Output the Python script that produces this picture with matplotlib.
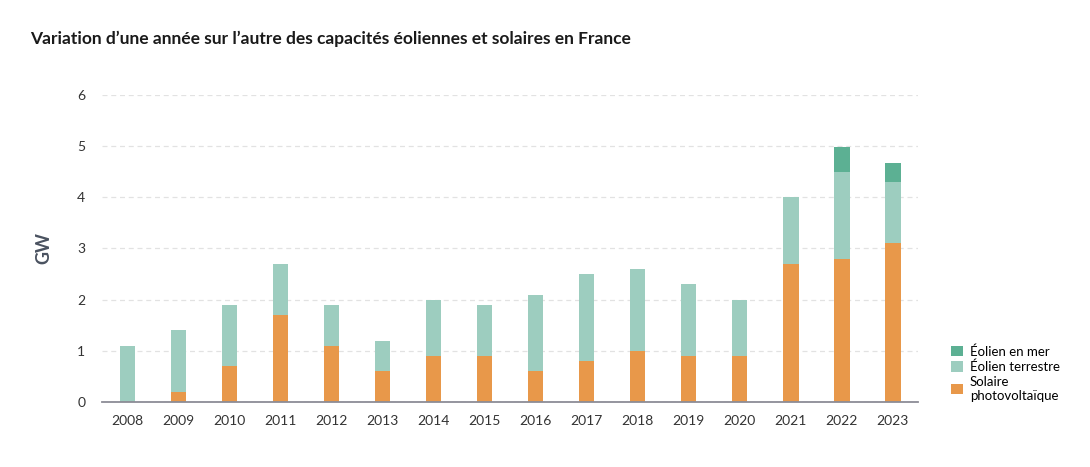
import matplotlib.pyplot as plt
import numpy as np

# Data (GW)
YEARS = [str(y) for y in range(2008, 2024)]
SOLAIRE = [0.0, 0.2, 0.7, 1.7, 1.1, 0.6, 0.9, 0.9, 0.6, 0.8, 1.0, 0.9, 0.9, 2.7, 2.8, 3.1]
EOLIEN_TERRESTRE = [1.1, 1.2, 1.2, 1.0, 0.8, 0.6, 1.1, 1.0, 1.5, 1.7, 1.6, 1.4, 1.1, 1.3, 1.7, 1.2]
EOLIEN_MER = [0, 0, 0, 0, 0, 0, 0, 0, 0, 0, 0, 0, 0, 0, 0.48, 0.36]

COLORS = {
    "mer": "#5cb093",
    "terrestre": "#9dcdbf",
    "solaire": "#e8984a",
}

plt.rcParams["font.family"] = ["Lato", "DejaVu Sans"]

fig = plt.figure(figsize=(10.9, 4.67), dpi=100)
ax = fig.add_axes([0.0936, 0.139, 0.749, 0.658])

x = np.arange(len(YEARS))
solaire = np.array(SOLAIRE)
terrestre = np.array(EOLIEN_TERRESTRE)
mer = np.array(EOLIEN_MER)
width = 0.3

b1 = ax.bar(x, solaire, width, color=COLORS["solaire"], label="Solaire\nphotovoltaïque", zorder=3)
b2 = ax.bar(x, terrestre, width, bottom=solaire, color=COLORS["terrestre"],
            label="Éolien terrestre", zorder=3)
b3 = ax.bar(x, mer, width, bottom=solaire + terrestre, color=COLORS["mer"],
            label="Éolien en mer", zorder=3)

ax.set_xlim(-0.5, len(YEARS) - 0.5)
ax.set_ylim(0, 6)
ax.set_xticks(x)
ax.set_xticklabels(YEARS)
ax.set_yticks(range(0, 7))
ax.tick_params(axis="both", length=0, labelsize=10, colors="#333333")
ax.tick_params(axis="x", pad=9)
ax.tick_params(axis="y", pad=12)

ax.yaxis.grid(True, linestyle=(0, (4, 3)), color="#e2e2e2", linewidth=0.9, zorder=0)
for side in ["top", "right", "left"]:
    ax.spines[side].set_visible(False)
ax.spines["bottom"].set_color("#8c8c96")
ax.spines["bottom"].set_linewidth(1.3)
ax.spines["bottom"].set_zorder(4)

ax.set_ylabel("GW", fontsize=13, fontweight="bold", color="#4a5260", labelpad=18)

fig.text(0.028, 0.905, "Variation d’une année sur l’autre des capacités éoliennes et solaires en France",
         fontsize=12.5, fontweight="bold", color="#1a1a1a")

fig.legend(handles=[b3, b2, b1], loc="upper left", bbox_to_anchor=(0.868, 0.272),
           frameon=False, fontsize=9.5, handlelength=0.85, handleheight=0.85,
           handletextpad=0.55, labelspacing=0.2, borderaxespad=0)

fig.savefig("out.png", dpi=100)
